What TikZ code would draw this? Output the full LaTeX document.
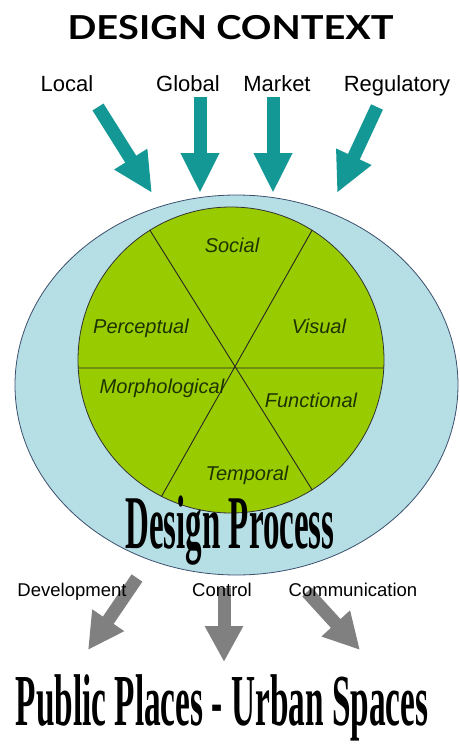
\documentclass[tikz,border=0pt]{standalone}
\usepackage{fontspec}
\usetikzlibrary{arrows.meta,shapes.geometric}
\newfontfamily\labelfont{Liberation Sans}
\newfontfamily\artfont{Liberation Serif}
\newfontfamily\headfont{Lato}
\definecolor{inflow}{RGB}{20,152,150}
\definecolor{outflow}{RGB}{128,128,128}
\definecolor{shell}{RGB}{182,222,229}
\definecolor{shellrim}{RGB}{60,80,110}
\definecolor{wedge}{RGB}{153,204,0}
\definecolor{wedgetext}{RGB}{30,50,0}
\begin{document}
\begin{tikzpicture}[x=1pt,y=-1pt,
    inarrow/.style={draw=inflow,line width=13pt,-{Triangle[length=40pt,width=36pt]}},
    outarrow/.style={draw=outflow,line width=13pt,-{Triangle[length=36pt,width=36pt]}},
    context/.style={font=\labelfont\fontsize{22}{22}\selectfont,anchor=base,inner sep=0},
    output/.style={font=\labelfont\fontsize{18.5}{18.5}\selectfont,anchor=base,inner sep=0},
    aspect/.style={font=\labelfont\itshape\fontsize{20}{20}\selectfont,text=wedgetext,anchor=base,inner sep=0},
    wordart/.style={font=\artfont\bfseries\fontsize{#1}{#1}\selectfont,anchor=base,inner sep=0}]
\useasboundingbox (0,0) rectangle (460,745);

% heading and the four contexts
\node[font=\headfont\bfseries\fontsize{33}{33}\selectfont,anchor=base,inner sep=0] (title) at (230.5,39) {\scalebox{1.15}[1]{DESIGN CONTEXT}};
\node[context] (local) at (67,91) {Local};
\node[context] (global) at (188,91) {Global};
\node[context] (market) at (277,91) {Market};
\node[context] (regulatory) at (397,91) {Regulatory};

% inflow arrows
\coordinate (local-s) at (98,107);   \coordinate (local-e) at (152,193);
\coordinate (global-s) at (200,97);  \coordinate (global-e) at (200,193);
\coordinate (market-s) at (273,97);  \coordinate (market-e) at (273,193);
\coordinate (reg-s) at (377,107);    \coordinate (reg-e) at (337,193);
\foreach \a in {local,global,market,reg}
    \draw[inarrow] (\a-s) -- (\a-e);

% process shell and wheel
\node[ellipse,draw=shellrim,line width=0.8pt,fill=shell,minimum width=443pt,minimum height=380pt,inner sep=0] (shell) at (236.5,385) {};
\node[circle,draw=black!80,line width=0.8pt,fill=wedge,minimum size=306pt,inner sep=0] (wheel) at (231,360) {};
\draw[black!85,line width=0.9pt] (wheel.122) -- (wheel.-58.5)
    (wheel.58) -- (wheel.-117.6)
    (wheel.183) -- (wheel.-3);

\node[aspect] (social) at (232,252) {Social};
\node[aspect] (perceptual) at (141,333) {Perceptual};
\node[aspect] (visual) at (319,333) {Visual};
\node[aspect] (morph) at (162,393) {Morphological};
\node[aspect] (functional) at (311,407) {Functional};
\node[aspect] (temporal) at (247,480) {Temporal};

\node[wordart=33] (process) at (230,548) {\scalebox{1}[2.3]{Design Process}};

% outflow arrows
\coordinate (dev-s) at (137,578);   \coordinate (dev-e) at (88,650);
\coordinate (ctrl-s) at (224,588);  \coordinate (ctrl-e) at (224,662);
\coordinate (comm-s) at (307,592);  \coordinate (comm-e) at (360,650);
\foreach \a in {dev,ctrl,comm}
    \draw[outarrow] (\a-s) -- (\a-e);

\node[output] (development) at (72,596) {Development};
\node[output] (control) at (222,596) {Control};
\node[output] (communication) at (353,596) {Communication};

\node[wordart=33.3] (places) at (222,725) {\scalebox{1}[2.2]{Public Places - Urban Spaces}};
\end{tikzpicture}
\end{document}
